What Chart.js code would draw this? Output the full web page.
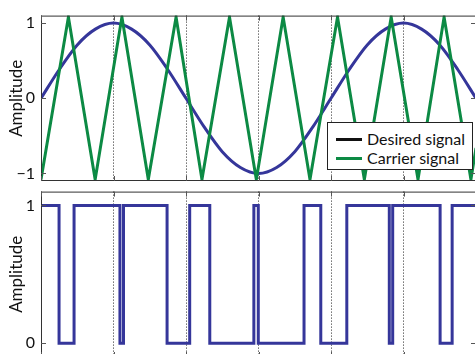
<!DOCTYPE html>
<html>
<head>
<meta charset="utf-8">
<script src="https://cdn.jsdelivr.net/npm/chart.js@4.4.1/dist/chart.umd.min.js"></script>
<style>
  html, body { margin: 0; padding: 0; background: #fff; }
  body { width: 475px; height: 354px; overflow: hidden; position: relative; font-family: Lato, sans-serif; }
  canvas { position: absolute; left: 0; }
  #top-chart { top: 0; }
  #bottom-chart { top: 176px; }
  .legend {
    position: absolute; left: 327px; top: 122px; width: 144px; height: 46px;
    border: 1.5px solid #222; background: #fff; font-size: 16px; color: #111;
  }
  .legend .row { position: absolute; left: 0; height: 20px; line-height: 20px; white-space: nowrap; }
  .legend .swatch { position: absolute; left: 8px; top: 9px; width: 26px; height: 3px; }
  .legend .label { position: absolute; left: 39px; top: 0; }
</style>
</head>
<body>
<canvas id="top-chart" width="500" height="200"></canvas>
<canvas id="bottom-chart" width="500" height="200"></canvas>
<div class="legend">
  <div class="row" style="top:6px"><span class="swatch" style="background:#111"></span><span class="label">Desired signal</span></div>
  <div class="row" style="top:25px"><span class="swatch" style="background:#0c8a44"></span><span class="label">Carrier signal</span></div>
</div>
<script>
// ── data ──
const xTicks = [0, 1, 2, 3, 4, 5, 6];
const yTicksTop = [-1, 0, 1];
const yTicksBottom = [0, 1];

// desired signal, sampled every quarter tick
const desiredX = [0, 0.25, 0.5, 0.75, 1, 1.25, 1.5, 1.75, 2, 2.25, 2.5, 2.75, 3,
  3.25, 3.5, 3.75, 4, 4.25, 4.5, 4.75, 5, 5.25, 5.5, 5.75, 6];
const desiredY = [0, 0.38, 0.71, 0.92, 1, 0.92, 0.71, 0.38, 0, -0.38, -0.71, -0.92, -1,
  -0.92, -0.71, -0.38, 0, 0.38, 0.71, 0.92, 1, 0.92, 0.71, 0.38, 0];

// carrier (triangle) corners
const carrierX = [0, 0.378, 0.747, 1.116, 1.48, 1.863, 2.22, 2.6, 2.97,
  3.34, 3.71, 4.09, 4.46, 4.83, 5.2, 5.56, 5.93, 6];
const carrierY = [-1.08, 1.08, -1.08, 1.08, -1.08, 1.08, -1.08, 1.08, -1.08,
  1.08, -1.08, 1.08, -1.08, 1.08, -1.08, 1.08, -1.08, -0.66];

// PWM output: switching instants and level after each
const pwmX = [0, 0.249, 0.456, 1.089, 1.138, 1.739, 2.051, 2.328, 2.936, 2.997,
  3.628, 3.859, 4.218, 4.804, 4.851, 5.505, 5.671, 6];
const pwmY = [1, 0, 1, 0, 1, 0, 1, 0, 1, 0, 1, 0, 1, 0, 1, 0, 1, 1];

const BLUE = '#35369a';
const GREEN = '#0c8a44';

const pts = (xs, ys) => xs.map((x, i) => ({ x, y: ys[i] }));

// frame + inward ticks, matlab style
const boxPlugin = {
  id: 'box',
  afterDraw(chart) {
    const ctx = chart.ctx, a = chart.chartArea;
    const sx = chart.scales.x, sy = chart.scales.y;
    ctx.save();
    ctx.strokeStyle = '#333';
    ctx.lineWidth = 1;
    ctx.strokeRect(a.left + 0.5, a.top + 0.5, a.right - a.left - 1, a.bottom - a.top - 1);
    ctx.strokeStyle = '#555';
    ctx.beginPath();
    sx.ticks.forEach(t => {
      const px = Math.round(sx.getPixelForValue(t.value)) + 0.5;
      ctx.moveTo(px, a.bottom); ctx.lineTo(px, a.bottom - 5);
      ctx.moveTo(px, a.top); ctx.lineTo(px, a.top + 5);
    });
    sy.ticks.forEach(t => {
      const py = Math.round(sy.getPixelForValue(t.value)) + 0.5;
      ctx.moveTo(a.left, py); ctx.lineTo(a.left + 5, py);
      ctx.moveTo(a.right, py); ctx.lineTo(a.right - 5, py);
    });
    ctx.stroke();
    ctx.restore();
  }
};

function options(yMin, yMax, yTicks) {
  return {
    responsive: false,
    animation: false,
    layout: { padding: { left: 0, top: 11, right: 24, bottom: 19 } },
    plugins: { legend: { display: false }, tooltip: { enabled: false } },
    scales: {
      x: {
        type: 'linear', min: 0, max: 6,
        afterBuildTicks: s => { s.ticks = xTicks.map(v => ({ value: v })); },
        afterFit: s => { s.height = 0; },
        ticks: { display: false },
        grid: { color: '#222', lineWidth: 1, drawTicks: false },
        border: { display: false, dash: [1, 2] }
      },
      y: {
        type: 'linear', min: yMin, max: yMax,
        afterBuildTicks: s => { s.ticks = yTicks.map(v => ({ value: v })); },
        afterFit: s => { s.width = 41; },
        grid: { display: false, drawTicks: false },
        border: { display: false },
        ticks: {
          padding: 6, color: '#111',
          font: { family: 'Lato', size: 16 },
          callback: v => (v < 0 ? '\u2212' + Math.abs(v) : String(v))
        },
        title: {
          display: true, text: 'Amplitude', color: '#111',
          font: { family: 'Lato', size: 17 },
          padding: { top: 6, bottom: 0 }
        }
      }
    }
  };
}

new Chart(document.getElementById('top-chart'), {
  type: 'line',
  data: {
    datasets: [
      { label: 'Carrier signal', data: pts(carrierX, carrierY), borderColor: GREEN, borderWidth: 3, pointRadius: 0, tension: 0 },
      { label: 'Desired signal', data: pts(desiredX, desiredY), borderColor: BLUE, borderWidth: 3, pointRadius: 0, cubicInterpolationMode: 'monotone' }
    ]
  },
  options: options(-1.1, 1.1, yTicksTop),
  plugins: [boxPlugin]
});

new Chart(document.getElementById('bottom-chart'), {
  type: 'line',
  data: {
    datasets: [
      { label: 'PWM', data: pts(pwmX, pwmY), borderColor: BLUE, borderWidth: 3, pointRadius: 0, stepped: true }
    ]
  },
  options: options(-0.1, 1.1, yTicksBottom),
  plugins: [boxPlugin]
});
</script>
</body>
</html>
